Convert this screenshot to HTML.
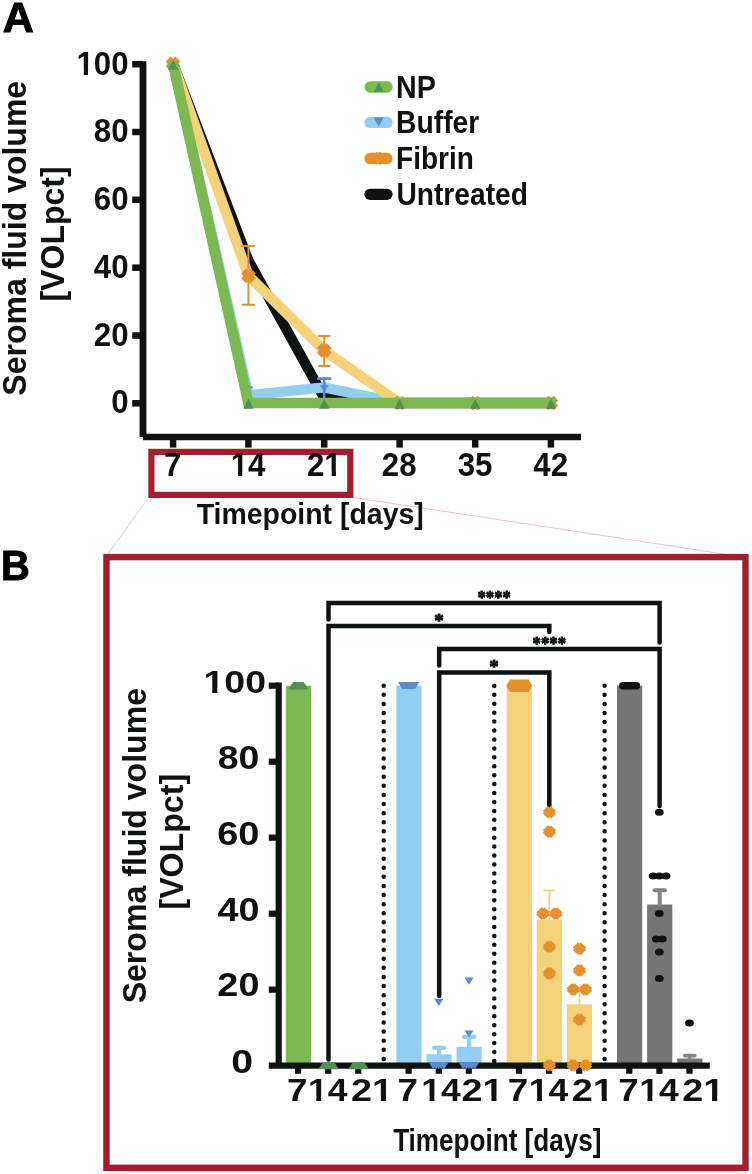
<!DOCTYPE html>
<html><head><meta charset="utf-8"><title>Figure</title>
<style>
html,body{margin:0;padding:0;background:#fff;}
svg{display:block;will-change:transform;}
text{font-family:"Liberation Sans",sans-serif;font-weight:bold;}
text.sf{font-family:"Liberation Serif",serif;}
</style></head><body>
<svg width="752" height="1174" viewBox="0 0 752 1174">
<rect width="752" height="1174" fill="#fff"/>
<g id="panelA-lines">
<polyline points="172.3,61.8 248.4,260.6 324.2,397.9 399.6,403.0 475.2,403.0 555.7,403.0" fill="none" stroke="#0f1212" stroke-width="10.3" stroke-linejoin="miter" stroke-linecap="butt"/>
<polyline points="172.6,61.8 248.4,395.2 324.2,387.4 399.6,403.0 475.2,403.0 555.7,403.0" fill="none" stroke="#92cef2" stroke-width="10.3" stroke-linejoin="miter" stroke-linecap="butt"/>
<path d="M248.4,387.4 V403.0 M244.9,387.4 H251.9" stroke="#5b8bd0" stroke-width="2.2" fill="none" stroke-linecap="round"/>
<path d="M324.2,378.6 V403.0 M318.2,378.6 H330.2" stroke="#5b8bd0" stroke-width="2.6" fill="none" stroke-linecap="round"/>
<path d="M319.70,385.16 L328.70,385.16 L324.20,392.36 Z" fill="#5b8bd0"/>
<path d="M243.90,397.70 L252.90,397.70 L248.40,404.90 Z" fill="#5b8bd0"/>
<polyline points="172.4,61.8 248.4,275.8 324.2,350.4 399.6,403.0 475.2,403.0 555.7,403.0" fill="none" stroke="#f3d27a" stroke-width="10.3" stroke-linejoin="miter" stroke-linecap="butt"/>
<path d="M248.4,246.0 V304.7 M242.7,246.0 H254.2 M242.7,304.7 H254.2" stroke="#e4902c" stroke-width="2.0" fill="none" stroke-linecap="round"/>
<path d="M324.2,335.9 V366.0 M318.7,335.9 H329.7 M318.7,366.0 H329.7" stroke="#e4902c" stroke-width="2.0" fill="none" stroke-linecap="round"/>
<g transform="translate(173.10,63.90) scale(1,1.0)" fill="#e4902c"><rect x="-6.90" y="-3.50" width="13.80" height="7.00" transform="rotate(45)"/><rect x="-6.90" y="-3.50" width="13.80" height="7.00" transform="rotate(-45)"/></g>
<g transform="translate(248.40,275.84) scale(1,1.0)" fill="#e4902c"><rect x="-6.90" y="-3.50" width="13.80" height="7.00" transform="rotate(45)"/><rect x="-6.90" y="-3.50" width="13.80" height="7.00" transform="rotate(-45)"/></g>
<g transform="translate(324.20,350.44) scale(1,1.0)" fill="#e4902c"><rect x="-6.90" y="-3.50" width="13.80" height="7.00" transform="rotate(45)"/><rect x="-6.90" y="-3.50" width="13.80" height="7.00" transform="rotate(-45)"/></g>
<g transform="translate(399.60,403.00) scale(1,1.0)" fill="#e4902c"><rect x="-6.90" y="-3.50" width="13.80" height="7.00" transform="rotate(45)"/><rect x="-6.90" y="-3.50" width="13.80" height="7.00" transform="rotate(-45)"/></g>
<g transform="translate(475.20,403.00) scale(1,1.0)" fill="#e4902c"><rect x="-6.90" y="-3.50" width="13.80" height="7.00" transform="rotate(45)"/><rect x="-6.90" y="-3.50" width="13.80" height="7.00" transform="rotate(-45)"/></g>
<g transform="translate(550.90,403.00) scale(1,1.0)" fill="#e4902c"><rect x="-6.90" y="-3.50" width="13.80" height="7.00" transform="rotate(45)"/><rect x="-6.90" y="-3.50" width="13.80" height="7.00" transform="rotate(-45)"/></g>
<polyline points="172.6,61.8 248.4,403.0 324.2,403.0 399.6,403.0 475.2,403.0 555.7,403.0" fill="none" stroke="#7cb950" stroke-width="10.6" stroke-linejoin="miter" stroke-linecap="butt"/>
<path d="M167.90,69.70 L178.30,69.70 L173.10,59.70 Z" fill="#4f9153"/>
<path d="M243.20,408.80 L253.60,408.80 L248.40,398.80 Z" fill="#4f9153"/>
<path d="M319.00,408.80 L329.40,408.80 L324.20,398.80 Z" fill="#4f9153"/>
<path d="M394.40,408.80 L404.80,408.80 L399.60,398.80 Z" fill="#4f9153"/>
<path d="M470.00,408.80 L480.40,408.80 L475.20,398.80 Z" fill="#4f9153"/>
<path d="M545.70,408.80 L556.10,408.80 L550.90,398.80 Z" fill="#4f9153"/>
</g>
<path d="M148.6,497.5 L107.5,554.5 M353.5,497.5 L727,554.5" stroke="#e8a8b0" stroke-width="0.75" fill="none"/>
<rect x="151.4" y="451.9" width="198.9" height="43.0" fill="none" stroke="#a41e30" stroke-width="6.2"/>
<rect x="106.45" y="557.1" width="639.05" height="610.7" fill="none" stroke="#a41e30" stroke-width="6.4"/>
<g stroke="#0f1212" stroke-width="6.5" fill="none">
<path d="M143.0,61.2 V437.0" stroke-width="6.8"/>
<path d="M143.0,437.0 H581"/>
<path d="M132.2,64.2 H143.0"/>
<path d="M132.2,132.0 H143.0"/>
<path d="M132.2,199.8 H143.0"/>
<path d="M132.2,267.7 H143.0"/>
<path d="M132.2,335.5 H143.0"/>
<path d="M132.2,403.3 H143.0"/>
<path d="M173.1,437.0 V447.6"/>
<path d="M248.4,437.0 V447.6"/>
<path d="M324.2,437.0 V447.6"/>
<path d="M399.6,437.0 V447.6"/>
<path d="M475.2,437.0 V447.6"/>
<path d="M550.9,437.0 V447.6"/>
</g>
<g transform="translate(76.42,74.52) scale(0.9489,1)"><text font-size="32.96" fill="#0f1212">100</text><rect x="0.97" y="-4.59" width="6.73" height="5.87" fill="#fff"/><rect x="12.21" y="-4.59" width="5.89" height="5.87" fill="#fff"/></g>
<text transform="translate(93.78,142.29) scale(0.9489,1)" font-size="32.96" fill="#0f1212">80</text>
<text transform="translate(93.78,210.06) scale(0.9489,1)" font-size="32.96" fill="#0f1212">60</text>
<text transform="translate(93.78,277.83) scale(0.9489,1)" font-size="32.96" fill="#0f1212">40</text>
<text transform="translate(93.78,345.60) scale(0.9489,1)" font-size="32.96" fill="#0f1212">20</text>
<text transform="translate(111.29,413.37) scale(0.9489,1)" font-size="32.96" fill="#0f1212">0</text>
<text transform="translate(164.07,476.04) scale(0.9489,1)" font-size="32.96" fill="#0f1212">7</text>
<g transform="translate(230.65,476.20) scale(0.9489,1)"><text font-size="32.96" fill="#0f1212">14</text><rect x="0.97" y="-4.59" width="6.73" height="5.87" fill="#fff"/><rect x="12.21" y="-4.59" width="5.89" height="5.87" fill="#fff"/></g>
<g transform="translate(306.99,476.20) scale(0.9489,1)"><text font-size="32.96" fill="#0f1212">21</text><rect x="19.29" y="-4.59" width="6.73" height="5.87" fill="#fff"/><rect x="30.54" y="-4.59" width="5.89" height="5.87" fill="#fff"/></g>
<text transform="translate(381.76,475.87) scale(0.9489,1)" font-size="32.96" fill="#0f1212">28</text>
<text transform="translate(457.69,475.87) scale(0.9489,1)" font-size="32.96" fill="#0f1212">35</text>
<text transform="translate(533.36,476.20) scale(0.9489,1)" font-size="32.96" fill="#0f1212">42</text>
<text transform="translate(196.72,523.80) scale(0.9509,1)" font-size="29.93" fill="#0f1212">Timepoint [days]</text>
<text transform="translate(26.30,395.66) rotate(-90) scale(0.9553,1)" font-size="33.53" fill="#0f1212">Seroma fluid volume</text>
<text transform="translate(64.10,301.56) rotate(-90) scale(0.9700,1)" font-size="33.04" fill="#0f1212">[VOLpct]</text>
<rect x="364.6" y="81.35" width="28.19999999999999" height="11.3" rx="5.65" fill="#7cb950"/>
<path d="M374.15,91.80 L383.65,91.80 L378.90,82.20 Z" fill="#4f9153"/>
<rect x="364.4" y="116.75" width="28.200000000000045" height="11.3" rx="5.65" fill="#92cef2"/>
<path d="M373.70,117.50 L383.70,117.50 L378.70,126.50 Z" fill="#5b8bd0"/>
<rect x="364.4" y="152.75" width="28.200000000000045" height="11.3" rx="5.65" fill="#e4902c"/>
<g transform="translate(378.50,158.40) scale(1,1.0)" fill="#e4902c"><rect x="-5.80" y="-3.70" width="11.60" height="7.40" transform="rotate(45)"/><rect x="-5.80" y="-3.70" width="11.60" height="7.40" transform="rotate(-45)"/></g>
<rect x="364.4" y="188.65" width="28.200000000000045" height="11.3" rx="5.65" fill="#0f1212"/>
<text transform="translate(395.94,97.90) scale(0.8899,1)" font-size="32.23" fill="#0f1212">NP</text>
<text transform="translate(396.06,133.10) scale(0.8798,1)" font-size="32.17" fill="#0f1212">Buffer</text>
<text transform="translate(396.08,169.20) scale(0.8773,1)" font-size="31.94" fill="#0f1212">Fibrin</text>
<text transform="translate(396.41,204.80) scale(0.8826,1)" font-size="31.94" fill="#0f1212">Untreated</text>
<text transform="translate(2.63,31.99) scale(1.0266,1)" font-size="41.87" fill="#000" stroke="#000" stroke-width="1.0" stroke-linejoin="miter">A</text>
<text transform="translate(1.11,579.60) scale(0.9414,1)" font-size="42.32" fill="#000" stroke="#000" stroke-width="1.0" stroke-linejoin="miter">B</text>
<g id="bars">
<rect x="285.85" y="685.70" width="25.2" height="380.00" fill="#7cb950"/>
<rect x="396.35" y="685.70" width="25.2" height="380.00" fill="#92cef2"/>
<rect x="426.45" y="1054.30" width="25.2" height="11.40" fill="#92cef2"/>
<rect x="456.55" y="1046.89" width="25.2" height="18.81" fill="#92cef2"/>
<rect x="506.65" y="685.70" width="25.2" height="380.00" fill="#f3d27a"/>
<rect x="536.75" y="919.78" width="25.2" height="145.92" fill="#f3d27a"/>
<rect x="566.85" y="1004.14" width="25.2" height="61.56" fill="#f3d27a"/>
<rect x="617.00" y="685.70" width="25.2" height="380.00" fill="#757575"/>
<rect x="647.10" y="904.58" width="25.2" height="161.12" fill="#757575"/>
<rect x="677.20" y="1058.48" width="25.2" height="7.22" fill="#757575"/>
</g>
<path d="M439.1,1055.0 V1047.8 M434.1,1047.8 H444.1" stroke="#92cef2" stroke-width="4.2" fill="none" stroke-linecap="round"/>
<path d="M469.1,1048.0 V1036.8 M463.9,1036.8 H474.4" stroke="#92cef2" stroke-width="4.2" fill="none" stroke-linecap="round"/>
<path d="M549.4,920.0 V890.3 M544.1,890.3 H554.6" stroke="#f3d27a" stroke-width="1.8" fill="none" stroke-linecap="round"/>
<path d="M579.5,1005.0 V989.5 M574.2,989.5 H584.7" stroke="#f3d27a" stroke-width="1.8" fill="none" stroke-linecap="round"/>
<path d="M659.7,905.0 V890.2 M654.5,890.2 H665.0" stroke="#858585" stroke-width="4.0" fill="none" stroke-linecap="round"/>
<path d="M689.8,1059.0 V1055.6 M684.8,1055.6 H694.8" stroke="#858585" stroke-width="3.6" fill="none" stroke-linecap="round"/>
<path d="M383.7,685.7 V1059.18" stroke="#0f1212" stroke-width="4.5" stroke-linecap="round" stroke-dasharray="0 9.102" fill="none"/>
<path d="M494.3,685.9 V1061.22" stroke="#0f1212" stroke-width="4.5" stroke-linecap="round" stroke-dasharray="0 8.929" fill="none"/>
<path d="M604.6,685.7 V1059.18" stroke="#0f1212" stroke-width="4.5" stroke-linecap="round" stroke-dasharray="0 9.102" fill="none"/>
<g stroke="#0f1212" stroke-width="6.2" fill="none">
<path d="M278.7,682.6 V1065.7"/>
<path d="M268.8,1065.7 H709.8"/>
<path d="M268.8,685.7 H278.7"/>
<path d="M268.8,761.7 H278.7"/>
<path d="M268.8,837.7 H278.7"/>
<path d="M268.8,913.7 H278.7"/>
<path d="M268.8,989.7 H278.7"/>
<path d="M298.1,1065.7 V1073.8"/>
<path d="M328.2,1065.7 V1073.8"/>
<path d="M358.3,1065.7 V1073.8"/>
<path d="M408.6,1065.7 V1073.8"/>
<path d="M438.8,1065.7 V1073.8"/>
<path d="M468.8,1065.7 V1073.8"/>
<path d="M519.0,1065.7 V1073.8"/>
<path d="M549.1,1065.7 V1073.8"/>
<path d="M579.2,1065.7 V1073.8"/>
<path d="M629.3,1065.7 V1073.8"/>
<path d="M659.4,1065.7 V1073.8"/>
<path d="M689.5,1065.7 V1073.8"/>
</g>
<g stroke="#0f1212" stroke-width="4.5" fill="none" stroke-linecap="round" stroke-linejoin="miter">
<path d="M328.5,619.5 V602.9 H659.6 V642.5"/>
<path d="M549.3,632 V625.9 H328.5 V1059.5"/>
<path d="M439.2,665.5 V648.9 H659.6 V806"/>
<path d="M439.2,996 V672.5 H549.3 V806"/>
</g>
<text transform="translate(477.53,604.08) scale(0.8676,1)" font-size="19.21" fill="#0f1212" class="sf" stroke="#0f1212" stroke-width="0.9" stroke-linejoin="round">****</text>
<text transform="translate(434.24,627.38) scale(0.9915,1)" font-size="19.21" fill="#0f1212" class="sf" stroke="#0f1212" stroke-width="0.9" stroke-linejoin="round">*</text>
<text transform="translate(532.53,650.18) scale(0.8757,1)" font-size="19.21" fill="#0f1212" class="sf" stroke="#0f1212" stroke-width="0.9" stroke-linejoin="round">****</text>
<text transform="translate(489.24,673.28) scale(0.9915,1)" font-size="19.21" fill="#0f1212" class="sf" stroke="#0f1212" stroke-width="0.9" stroke-linejoin="round">*</text>
<path d="M288.1,689.4 L293.2,682 L303.6,682 L308.8,689.4 Z" fill="#4f9153"/>
<path d="M398.1,681.9 L419.3,681.9 L415.2,688.9 L402.1,688.9 Z" fill="#5b8bd0"/>
<path d="M506.2,685.7 L509.9,679.4 L528.6,679.4 L532.2,685.7 L528.6,692 L509.9,692 Z" fill="#e4902c"/>
<rect x="619.1" y="681.9" width="21" height="7.5" rx="3.75" fill="#0f1212"/>
<path d="M318.4,1069.2 L322.8,1062.3 L334.4,1062.3 L338.8,1069.2 Z" fill="#4f9153"/>
<path d="M348.4,1069.2 L352.8,1062.3 L364.4,1062.3 L368.8,1069.2 Z" fill="#4f9153"/>
<path d="M428.75,1062.20 L437.75,1062.20 L433.25,1069.60 Z" fill="#5b8bd0"/>
<path d="M431.45,1062.20 L440.45,1062.20 L435.95,1069.60 Z" fill="#5b8bd0"/>
<path d="M434.15,1062.20 L443.15,1062.20 L438.65,1069.60 Z" fill="#5b8bd0"/>
<path d="M436.85,1062.20 L445.85,1062.20 L441.35,1069.60 Z" fill="#5b8bd0"/>
<path d="M439.55,1062.20 L448.55,1062.20 L444.05,1069.60 Z" fill="#5b8bd0"/>
<path d="M458.80,1062.20 L467.80,1062.20 L463.30,1069.60 Z" fill="#5b8bd0"/>
<path d="M461.65,1062.20 L470.65,1062.20 L466.15,1069.60 Z" fill="#5b8bd0"/>
<path d="M464.50,1062.20 L473.50,1062.20 L469.00,1069.60 Z" fill="#5b8bd0"/>
<path d="M467.35,1062.20 L476.35,1062.20 L471.85,1069.60 Z" fill="#5b8bd0"/>
<path d="M470.20,1062.20 L479.20,1062.20 L474.70,1069.60 Z" fill="#5b8bd0"/>
<path d="M434.20,998.80 L443.40,998.80 L438.80,1006.00 Z" fill="#5b8bd0"/>
<path d="M464.50,977.60 L473.50,977.60 L469.00,984.80 Z" fill="#5b8bd0"/>
<path d="M464.50,1030.40 L473.50,1030.40 L469.00,1037.60 Z" fill="#5b8bd0"/>
<g transform="translate(549.40,812.20) scale(1,0.94)" fill="#e4902c"><rect x="-5.70" y="-3.80" width="11.40" height="7.60" transform="rotate(45)"/><rect x="-5.70" y="-3.80" width="11.40" height="7.60" transform="rotate(-45)"/></g>
<g transform="translate(549.40,831.60) scale(1,0.94)" fill="#e4902c"><rect x="-5.70" y="-3.80" width="11.40" height="7.60" transform="rotate(45)"/><rect x="-5.70" y="-3.80" width="11.40" height="7.60" transform="rotate(-45)"/></g>
<g transform="translate(543.00,913.60) scale(1,0.94)" fill="#e4902c"><rect x="-5.70" y="-3.80" width="11.40" height="7.60" transform="rotate(45)"/><rect x="-5.70" y="-3.80" width="11.40" height="7.60" transform="rotate(-45)"/></g>
<g transform="translate(555.80,913.60) scale(1,0.94)" fill="#e4902c"><rect x="-5.70" y="-3.80" width="11.40" height="7.60" transform="rotate(45)"/><rect x="-5.70" y="-3.80" width="11.40" height="7.60" transform="rotate(-45)"/></g>
<g transform="translate(549.40,946.80) scale(1,0.94)" fill="#e4902c"><rect x="-5.70" y="-3.80" width="11.40" height="7.60" transform="rotate(45)"/><rect x="-5.70" y="-3.80" width="11.40" height="7.60" transform="rotate(-45)"/></g>
<g transform="translate(549.40,973.40) scale(1,0.94)" fill="#e4902c"><rect x="-5.70" y="-3.80" width="11.40" height="7.60" transform="rotate(45)"/><rect x="-5.70" y="-3.80" width="11.40" height="7.60" transform="rotate(-45)"/></g>
<g transform="translate(549.40,1065.30) scale(1,0.94)" fill="#e4902c"><rect x="-5.70" y="-3.80" width="11.40" height="7.60" transform="rotate(45)"/><rect x="-5.70" y="-3.80" width="11.40" height="7.60" transform="rotate(-45)"/></g>
<g transform="translate(579.40,948.70) scale(1,0.94)" fill="#e4902c"><rect x="-5.70" y="-3.80" width="11.40" height="7.60" transform="rotate(45)"/><rect x="-5.70" y="-3.80" width="11.40" height="7.60" transform="rotate(-45)"/></g>
<g transform="translate(579.40,970.40) scale(1,0.94)" fill="#e4902c"><rect x="-5.70" y="-3.80" width="11.40" height="7.60" transform="rotate(45)"/><rect x="-5.70" y="-3.80" width="11.40" height="7.60" transform="rotate(-45)"/></g>
<g transform="translate(573.30,989.50) scale(1,0.94)" fill="#e4902c"><rect x="-5.70" y="-3.80" width="11.40" height="7.60" transform="rotate(45)"/><rect x="-5.70" y="-3.80" width="11.40" height="7.60" transform="rotate(-45)"/></g>
<g transform="translate(585.50,989.50) scale(1,0.94)" fill="#e4902c"><rect x="-5.70" y="-3.80" width="11.40" height="7.60" transform="rotate(45)"/><rect x="-5.70" y="-3.80" width="11.40" height="7.60" transform="rotate(-45)"/></g>
<g transform="translate(579.40,1019.60) scale(1,0.94)" fill="#e4902c"><rect x="-5.70" y="-3.80" width="11.40" height="7.60" transform="rotate(45)"/><rect x="-5.70" y="-3.80" width="11.40" height="7.60" transform="rotate(-45)"/></g>
<g transform="translate(573.20,1065.30) scale(1,0.94)" fill="#e4902c"><rect x="-5.70" y="-3.80" width="11.40" height="7.60" transform="rotate(45)"/><rect x="-5.70" y="-3.80" width="11.40" height="7.60" transform="rotate(-45)"/></g>
<g transform="translate(585.60,1065.30) scale(1,0.94)" fill="#e4902c"><rect x="-5.70" y="-3.80" width="11.40" height="7.60" transform="rotate(45)"/><rect x="-5.70" y="-3.80" width="11.40" height="7.60" transform="rotate(-45)"/></g>
<ellipse cx="659.30" cy="812.20" rx="4.4" ry="3.5" fill="#0f1212"/>
<ellipse cx="653.10" cy="876.00" rx="4.4" ry="3.5" fill="#0f1212"/>
<ellipse cx="659.30" cy="876.00" rx="4.4" ry="3.5" fill="#0f1212"/>
<ellipse cx="666.10" cy="876.00" rx="4.4" ry="3.5" fill="#0f1212"/>
<ellipse cx="659.30" cy="913.60" rx="4.4" ry="3.5" fill="#0f1212"/>
<ellipse cx="656.30" cy="939.00" rx="4.4" ry="3.5" fill="#0f1212"/>
<ellipse cx="662.30" cy="939.00" rx="4.4" ry="3.5" fill="#0f1212"/>
<ellipse cx="659.30" cy="951.90" rx="4.4" ry="3.5" fill="#0f1212"/>
<ellipse cx="659.30" cy="978.40" rx="4.4" ry="3.5" fill="#0f1212"/>
<ellipse cx="689.50" cy="1022.90" rx="4.4" ry="3.5" fill="#0f1212"/>
<g transform="translate(203.45,692.58) scale(1.1734,1)"><text font-size="31.97" fill="#0f1212">100</text><rect x="0.94" y="-4.45" width="6.53" height="5.70" fill="#fff"/><rect x="11.85" y="-4.45" width="5.71" height="5.70" fill="#fff"/></g>
<text transform="translate(217.78,768.58) scale(1.1550,1)" font-size="32.39" fill="#0f1212">80</text>
<text transform="translate(217.17,844.57) scale(1.1674,1)" font-size="32.54" fill="#0f1212">60</text>
<text transform="translate(217.43,920.58) scale(1.1649,1)" font-size="32.39" fill="#0f1212">40</text>
<text transform="translate(217.37,996.37) scale(1.1469,1)" font-size="32.96" fill="#0f1212">20</text>
<text transform="translate(231.33,1072.97) scale(1.1881,1)" font-size="32.96" fill="#0f1212">0</text>
<text transform="translate(286.98,1100.90) scale(1.1608,1)" font-size="31.74" fill="#0f1212">7</text>
<g transform="translate(308.02,1100.90) scale(1.1192,1)"><text font-size="31.74" fill="#0f1212">14</text><rect x="0.93" y="-4.42" width="6.48" height="5.66" fill="#fff"/><rect x="11.76" y="-4.42" width="5.67" height="5.66" fill="#fff"/></g>
<g transform="translate(351.02,1100.90) scale(1.1911,1)"><text font-size="31.74" fill="#0f1212">21</text><rect x="18.58" y="-4.42" width="6.48" height="5.66" fill="#fff"/><rect x="29.41" y="-4.42" width="5.67" height="5.66" fill="#fff"/></g>
<text transform="translate(397.48,1100.90) scale(1.1608,1)" font-size="31.74" fill="#0f1212">7</text>
<g transform="translate(421.22,1100.90) scale(1.1192,1)"><text font-size="31.74" fill="#0f1212">14</text><rect x="0.93" y="-4.42" width="6.48" height="5.66" fill="#fff"/><rect x="11.76" y="-4.42" width="5.67" height="5.66" fill="#fff"/></g>
<g transform="translate(461.52,1100.90) scale(1.1911,1)"><text font-size="31.74" fill="#0f1212">21</text><rect x="18.58" y="-4.42" width="6.48" height="5.66" fill="#fff"/><rect x="29.41" y="-4.42" width="5.67" height="5.66" fill="#fff"/></g>
<text transform="translate(507.78,1100.90) scale(1.1608,1)" font-size="31.74" fill="#0f1212">7</text>
<g transform="translate(528.82,1100.90) scale(1.1192,1)"><text font-size="31.74" fill="#0f1212">14</text><rect x="0.93" y="-4.42" width="6.48" height="5.66" fill="#fff"/><rect x="11.76" y="-4.42" width="5.67" height="5.66" fill="#fff"/></g>
<g transform="translate(571.82,1100.90) scale(1.1911,1)"><text font-size="31.74" fill="#0f1212">21</text><rect x="18.58" y="-4.42" width="6.48" height="5.66" fill="#fff"/><rect x="29.41" y="-4.42" width="5.67" height="5.66" fill="#fff"/></g>
<text transform="translate(618.13,1100.90) scale(1.1608,1)" font-size="31.74" fill="#0f1212">7</text>
<g transform="translate(639.17,1100.90) scale(1.1192,1)"><text font-size="31.74" fill="#0f1212">14</text><rect x="0.93" y="-4.42" width="6.48" height="5.66" fill="#fff"/><rect x="11.76" y="-4.42" width="5.67" height="5.66" fill="#fff"/></g>
<g transform="translate(682.17,1100.90) scale(1.1911,1)"><text font-size="31.74" fill="#0f1212">21</text><rect x="18.58" y="-4.42" width="6.48" height="5.66" fill="#fff"/><rect x="29.41" y="-4.42" width="5.67" height="5.66" fill="#fff"/></g>
<text transform="translate(393.14,1150.50) scale(0.8249,1)" font-size="31.65" fill="#0f1212">Timepoint [days]</text>
<text transform="translate(146.10,1003.36) rotate(-90) scale(0.9571,1)" font-size="33.53" fill="#0f1212">Seroma fluid volume</text>
<text transform="translate(183.00,909.57) rotate(-90) scale(0.9562,1)" font-size="33.62" fill="#0f1212">[VOLpct]</text>
</svg></body></html>
